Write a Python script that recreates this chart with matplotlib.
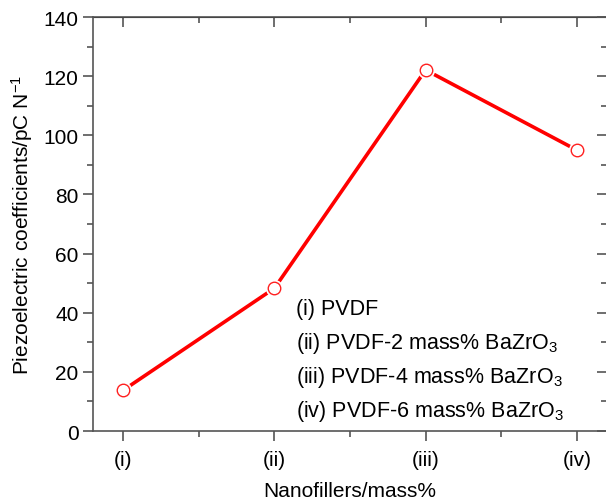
import matplotlib
matplotlib.use('Agg')
import matplotlib.pyplot as plt
from matplotlib.ticker import MultipleLocator

# Data
samples = ['(i)', '(ii)', '(iii)', '(iv)']
d33 = [13.8, 48.3, 122.1, 95.0]
legend_lines = ['(i) PVDF',
                '(ii) PVDF-2 mass% BaZrO$_3$',
                '(iii) PVDF-4 mass% BaZrO$_3$',
                '(iv) PVDF-6 mass% BaZrO$_3$']

plt.rcParams['font.family'] = ['Liberation Sans', 'DejaVu Sans']
plt.rcParams['mathtext.fontset'] = 'custom'
plt.rcParams['mathtext.rm'] = 'Liberation Sans'
plt.rcParams['mathtext.default'] = 'regular'

fig = plt.figure(figsize=(6.06, 5.02), dpi=100)
ax = fig.add_axes([0.1535, 0.1394, 0.8482, 0.8247])

x = list(range(len(samples)))
ax.plot(x, d33, color='#ff0000', lw=2.6, zorder=2)
# white halo so the line stops short of the markers
ax.plot(x, d33, 'o', ms=11.5, mfc='white', mec='white', zorder=3)
ax.plot(x, d33, 'o', ms=9, mfc='white', mec='#ff2020', mew=1.0, zorder=4)

ax.set_xlim(-0.2, 3.2)
ax.set_ylim(0, 140)
ax.set_xticks(x)
ax.set_xticklabels(samples)
ax.xaxis.set_minor_locator(MultipleLocator(0.5))
ax.yaxis.set_major_locator(MultipleLocator(20))
ax.yaxis.set_minor_locator(MultipleLocator(10))

for s in ax.spines.values():
    s.set_color('#555555')
    s.set_linewidth(1.2)

ax.tick_params(which='both', direction='out', top=False, right=False,
               colors='#555555', labelcolor='black', labelsize=15, width=1.2)
ax.tick_params(which='major', length=7)
ax.tick_params(which='minor', length=4)
ax.tick_params(axis='x', pad=7)

# inward ticks on top and right
sec_x = ax.secondary_xaxis('top')
sec_x.set_xticks(x)
sec_x.xaxis.set_minor_locator(MultipleLocator(0.5))
sec_x.tick_params(which='both', direction='in', labeltop=False, colors='#555555', width=1.2)
sec_x.tick_params(which='major', length=7)
sec_x.tick_params(which='minor', length=4)
sec_y = ax.secondary_yaxis('right')
sec_y.yaxis.set_major_locator(MultipleLocator(20))
sec_y.yaxis.set_minor_locator(MultipleLocator(10))
sec_y.tick_params(which='both', direction='in', labelright=False, colors='#555555', width=1.2)
sec_y.tick_params(which='major', length=7)
sec_y.tick_params(which='minor', length=4)

ax.set_xlabel('Nanofillers/mass%', fontsize=15, labelpad=8)
ax.set_ylabel('Piezoelectric coefficients/pC N$^{-1}$', fontsize=15, labelpad=6)

y0 = 0.295
for i, t in enumerate(legend_lines):
    ax.text(0.395, y0 - i * 0.082, t, transform=ax.transAxes, fontsize=15.5,
            va='center', ha='left')

fig.savefig('out.png', dpi=100)
